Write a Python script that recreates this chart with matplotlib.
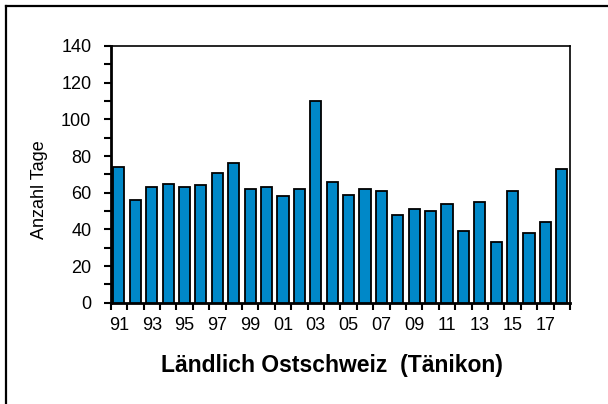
import matplotlib
matplotlib.use("Agg")
import matplotlib.pyplot as plt
from matplotlib.lines import Line2D
from matplotlib.ticker import MultipleLocator, FixedLocator
import numpy as np

plt.rcParams['font.family'] = ['Liberation Sans', 'DejaVu Sans']

years = [1991, 1992, 1993, 1994, 1995, 1996, 1997, 1998, 1999, 2000,
         2001, 2002, 2003, 2004, 2005, 2006, 2007, 2008, 2009, 2010,
         2011, 2012, 2013, 2014, 2015, 2016, 2017, 2018]
days = [74, 56, 63, 65, 63, 64, 71, 76, 62, 63,
        58, 62, 110, 66, 59, 62, 61, 48, 51, 50,
        54, 39, 55, 33, 61, 38, 44, 73]
tick_labels = ["91", "93", "95", "97", "99", "01", "03", "05", "07", "09", "11", "13", "15", "17"]
y_label = "Anzahl Tage"
title = "Ländlich Ostschweiz  (Tänikon)"

fig = plt.figure(figsize=(6.08, 4.04), dpi=100)
ax = fig.add_axes([110.7/608, 1-302.7/404, (570-110.7)/608, (302.7-46)/404])

x = np.arange(len(years))
ax.bar(x, days, width=0.68, color='#0088C8', edgecolor='black', linewidth=1.3, zorder=3)

ax.set_xlim(-0.5, len(years)-0.5)
ax.set_ylim(0, 140)

ax.yaxis.set_major_locator(MultipleLocator(20))
ax.yaxis.set_minor_locator(MultipleLocator(10))
ax.tick_params(axis='y', which='major', direction='out', length=5, width=1.5, labelsize=13, pad=9)
ax.tick_params(axis='y', which='minor', direction='out', length=5, width=1.5)

ax.set_xticks(x[::2])
ax.set_xticklabels(tick_labels)
ax.xaxis.set_minor_locator(FixedLocator(np.arange(-0.5, len(years), 1.0)))
ax.tick_params(axis='x', which='major', length=0, labelsize=13, pad=10)
ax.tick_params(axis='x', which='minor', direction='out', length=5, width=1.5)

for s in ['left', 'bottom']:
    ax.spines[s].set_linewidth(2)
for s in ['top', 'right']:
    ax.spines[s].set_linewidth(1.2)

fig.text(40/608, 1-190/404, y_label, rotation=90, ha='center', va='center', fontsize=13)
fig.text(332/608, 1-372/404, title, ha='center', va='baseline', fontsize=16.5, fontweight='bold')

fig.add_artist(Line2D([6/608, 1.0], [1-6/404, 1-6/404], transform=fig.transFigure, color='black', linewidth=1.6))
fig.add_artist(Line2D([6/608, 6/608], [0.0, 1-6/404], transform=fig.transFigure, color='black', linewidth=1.6))

fig.savefig("out.png", dpi=100)
